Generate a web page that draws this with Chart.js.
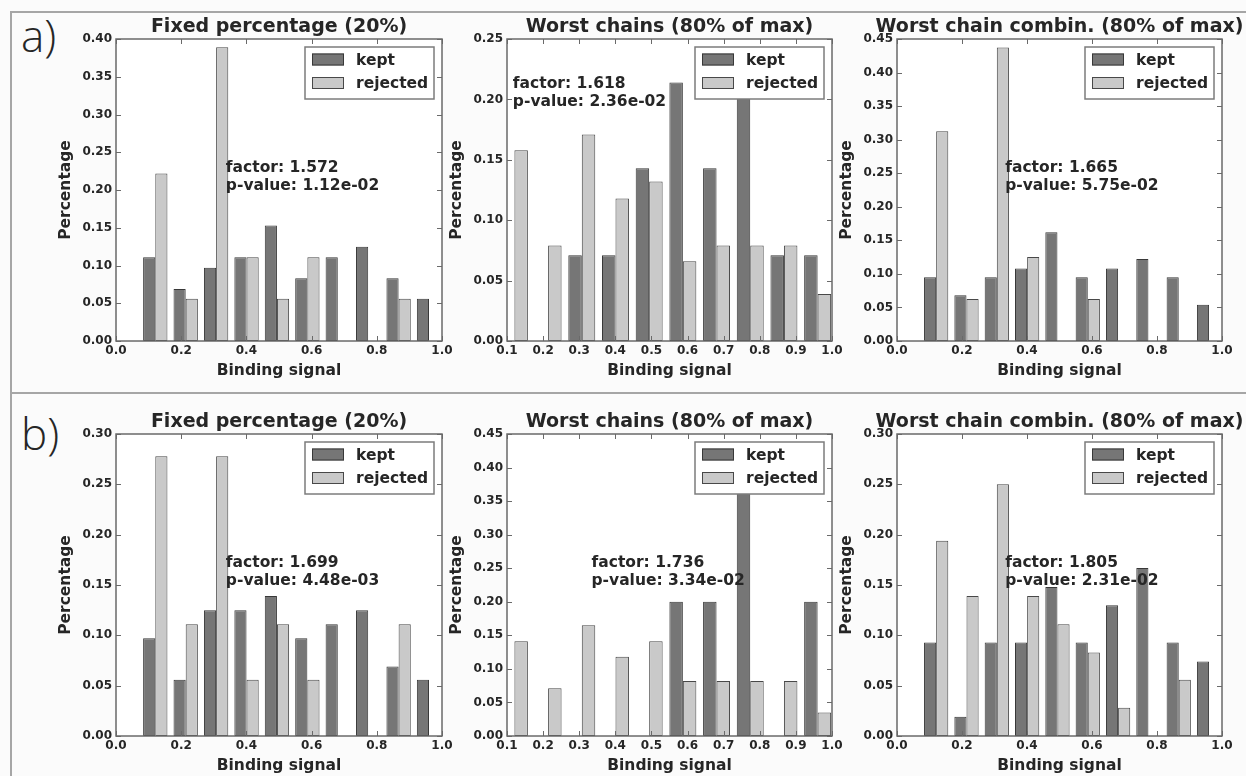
<!DOCTYPE html>
<html>
<head>
<meta charset="utf-8">
<script src="https://cdn.jsdelivr.net/npm/chart.js@4.4.1/dist/chart.umd.min.js"></script>
<style>
  html, body { margin: 0; padding: 0; background: #fbfbfb; overflow: hidden; }
  #fig { position: relative; width: 1246px; height: 776px; background: #fbfbfb; overflow: hidden; }
  .rule { position: absolute; background: #a6a6a6; }
  #fig canvas { position: absolute; }
  .tag { position: absolute; font-family: 'Open Sans', sans-serif; font-weight: 300; font-size: 44px; color: #262626; line-height: 1; }
</style>
</head>
<body>
<div id="fig">
  <div class="rule" style="left:11px;top:11px;width:1235px;height:2px"></div>
  <div class="rule" style="left:10px;top:11px;width:2px;height:765px"></div>
  <div class="rule" style="left:11px;top:392px;width:1235px;height:2px"></div>
  <div class="tag" style="left:21px;top:13px">a)</div>
  <div class="tag" style="left:21px;top:411px">b)</div>
</div>
<script>
// Histogram bin centres shared by all six panels (Binding signal)
const binCenters = [0.1205, 0.2138, 0.3071, 0.4004, 0.4937, 0.5870, 0.6803, 0.7736, 0.8669, 0.9602];

const seriesNames = ['kept', 'rejected'];
const panelTitles = ['Fixed percentage (20%)', 'Worst chains (80% of max)', 'Worst chain combin. (80% of max)'];

// Row a)
const keptA1 = [0.111, 0.069, 0.097, 0.111, 0.153, 0.083, 0.111, 0.125, 0.083, 0.056];
const rejectedA1 = [0.222, 0.056, 0.389, 0.111, 0.056, 0.111, 0, 0, 0.056, 0];
const keptA2 = [0, 0, 0.071, 0.071, 0.143, 0.214, 0.143, 0.214, 0.071, 0.071];
const rejectedA2 = [0.158, 0.079, 0.171, 0.118, 0.132, 0.066, 0.079, 0.079, 0.079, 0.039];
const keptA3 = [0.095, 0.068, 0.095, 0.108, 0.162, 0.095, 0.108, 0.122, 0.095, 0.054];
const rejectedA3 = [0.3125, 0.0625, 0.4375, 0.125, 0, 0.0625, 0, 0, 0, 0];

// Row b)
const keptB1 = [0.097, 0.056, 0.125, 0.125, 0.139, 0.097, 0.111, 0.125, 0.069, 0.056];
const rejectedB1 = [0.278, 0.111, 0.278, 0.056, 0.111, 0.056, 0, 0, 0.111, 0];
const keptB2 = [0, 0, 0, 0, 0, 0.2, 0.2, 0.4, 0, 0.2];
const rejectedB2 = [0.141, 0.071, 0.165, 0.118, 0.141, 0.082, 0.082, 0.082, 0.082, 0.035];
const keptB3 = [0.093, 0.019, 0.093, 0.093, 0.148, 0.093, 0.130, 0.167, 0.093, 0.074];
const rejectedB3 = [0.194, 0.139, 0.25, 0.139, 0.111, 0.083, 0.028, 0, 0.056, 0];

// Statistics printed inside each panel
const statsA = [['factor: 1.572', 'p-value: 1.12e-02'], ['factor: 1.618', 'p-value: 2.36e-02'], ['factor: 1.665', 'p-value: 5.75e-02']];
const statsB = [['factor: 1.699', 'p-value: 4.48e-03'], ['factor: 1.736', 'p-value: 3.34e-02'], ['factor: 1.805', 'p-value: 2.31e-02']];

// Axis ranges
const yMaxA = [0.40, 0.25, 0.45];
const yMaxB = [0.30, 0.45, 0.30];
const xRanges = [[0, 1, 0.2], [0.1, 1, 0.1], [0, 1, 0.2]];

const FONT = '"DejaVu Sans", "Liberation Sans", sans-serif';
const INK = '#262626';
const FRAME = '#6a6a6a';

const panelDecor = {
  id: 'panelDecor',
  beforeDraw(chart) {
    const { ctx, chartArea: a } = chart;
    ctx.save();
    ctx.fillStyle = '#ffffff';
    ctx.fillRect(a.left, a.top, a.right - a.left, a.bottom - a.top);
    ctx.restore();
  },
  afterDatasetsDraw(chart, args, opts) {
    const { ctx, chartArea: a } = chart;
    const xs = chart.scales.x, ys = chart.scales.y;
    ctx.save();
    // inward tick marks on all four sides
    ctx.strokeStyle = FRAME;
    ctx.lineWidth = 1;
    ctx.beginPath();
    xs.ticks.forEach(t => {
      const px = Math.round(xs.getPixelForValue(t.value)) + 0.5;
      ctx.moveTo(px, a.bottom); ctx.lineTo(px, a.bottom - 5);
      ctx.moveTo(px, a.top); ctx.lineTo(px, a.top + 5);
    });
    ys.ticks.forEach(t => {
      const py = Math.round(ys.getPixelForValue(t.value)) + 0.5;
      ctx.moveTo(a.left, py); ctx.lineTo(a.left + 5, py);
      ctx.moveTo(a.right, py); ctx.lineTo(a.right - 5, py);
    });
    ctx.stroke();
    // axes frame
    ctx.lineWidth = 1.5;
    ctx.strokeRect(a.left, a.top, a.right - a.left, a.bottom - a.top);

    // statistics text
    ctx.fillStyle = INK;
    ctx.font = 'bold 15.5px ' + FONT;
    ctx.textBaseline = 'alphabetic';
    ctx.textAlign = 'left';
    const tx = a.left + opts.statX * (a.right - a.left);
    const ty = a.top + opts.statY * (a.bottom - a.top);
    opts.stats.forEach((s, i) => ctx.fillText(s, tx, ty + i * 18));

    // legend box
    const bw = 129, bh = 52;
    const bx = a.right - 8 - bw, by = a.top + 8;
    ctx.fillStyle = '#ffffff';
    ctx.fillRect(bx, by, bw, bh);
    ctx.strokeStyle = '#7c7c7c';
    ctx.lineWidth = 1.5;
    ctx.strokeRect(bx, by, bw, bh);
    chart.data.datasets.forEach((ds, i) => {
      const cy = by + 12.5 + i * 23.5;
      ctx.fillStyle = ds.backgroundColor;
      ctx.fillRect(bx + 7, cy - 6, 32, 12);
      ctx.strokeStyle = ds.borderColor;
      ctx.lineWidth = 1;
      ctx.strokeRect(bx + 7.5, cy - 5.5, 31, 11);
      ctx.fillStyle = INK;
      ctx.font = 'bold 15.5px ' + FONT;
      ctx.textBaseline = 'middle';
      ctx.fillText(ds.label, bx + 51, cy + 1);
    });
    ctx.restore();
  },
  afterDraw(chart, args, opts) {
    const { ctx, chartArea: a } = chart;
    ctx.save();
    ctx.fillStyle = INK;
    ctx.font = 'bold 19px ' + FONT;
    ctx.textAlign = 'center';
    ctx.textBaseline = 'middle';
    ctx.fillText(opts.title, (a.left + a.right) / 2, a.top - 12);
    ctx.restore();
  }
};

function makePanel(id, left, top, plotW, title, kept, rejected, yMax, xr, stats, statX, statY) {
  const padL = 8, yAxisW = 63, padR = 24, padT = 36, xAxisH = 43, padB = 2;
  const plotH = 302;
  const cv = document.createElement('canvas');
  cv.id = id;
  cv.width = padL + yAxisW + plotW + padR;
  cv.height = padT + plotH + xAxisH + padB;
  cv.style.left = (left - yAxisW - padL) + 'px';
  cv.style.top = (top - padT) + 'px';
  document.getElementById('fig').appendChild(cv);

  const tickFont = { family: FONT, size: 12, weight: 'bold' };
  const titleFont = { family: FONT, size: 15.5, weight: 'bold' };

  new Chart(cv, {
    type: 'bar',
    data: {
      datasets: [
        { label: seriesNames[0], data: binCenters.map((c, i) => ({ x: c, y: kept[i] })),
          backgroundColor: '#767676', borderColor: '#383838', borderWidth: 1, borderSkipped: false },
        { label: seriesNames[1], data: binCenters.map((c, i) => ({ x: c, y: rejected[i] })),
          backgroundColor: '#c9c9c9', borderColor: '#484848', borderWidth: 1, borderSkipped: false }
      ]
    },
    options: {
      responsive: false,
      animation: false,
      devicePixelRatio: 1,
      layout: { padding: { left: padL, right: padR, top: padT, bottom: padB } },
      datasets: { bar: { barPercentage: 1, categoryPercentage: 0.8, grouped: true } },
      plugins: {
        legend: { display: false },
        tooltip: { enabled: false },
        title: { display: false },
        panelDecor: { title, stats, statX, statY }
      },
      scales: {
        x: {
          type: 'linear', min: xr[0], max: xr[1], offset: false,
          grid: { display: false, drawTicks: false },
          border: { display: false },
          ticks: { stepSize: xr[2], font: tickFont, color: INK, padding: 3, maxRotation: 0, autoSkip: false,
                   callback: v => Number(v).toFixed(1) },
          title: { display: true, text: 'Binding signal', font: titleFont, color: INK, padding: { top: 4, bottom: 4 } },
          afterFit: s => { s.height = xAxisH; }
        },
        y: {
          min: 0, max: yMax,
          grid: { display: false, drawTicks: false },
          border: { display: false },
          ticks: { stepSize: 0.05, font: tickFont, color: INK, padding: 4,
                   callback: v => Number(v).toFixed(2) },
          title: { display: true, text: 'Percentage', font: titleFont, color: INK, padding: { top: 4, bottom: 4 } },
          afterFit: s => { s.width = yAxisW; }
        }
      }
    },
    plugins: [panelDecor]
  });
}

const colLeft = [116, 507, 897];
const colWidth = [326, 325, 325];
const rowTop = [39, 434];

const keptRows = [[keptA1, keptA2, keptA3], [keptB1, keptB2, keptB3]];
const rejRows = [[rejectedA1, rejectedA2, rejectedA3], [rejectedB1, rejectedB2, rejectedB3]];
const yMaxRows = [yMaxA, yMaxB];
const statRows = [statsA, statsB];
const statPosX = [[0.337, 0.018, 0.333], [0.337, 0.26, 0.333]];
const statPosY = [[0.441, 0.161, 0.441], [0.441, 0.441, 0.441]];

for (let r = 0; r < 2; r++) {
  for (let c = 0; c < 3; c++) {
    makePanel('p' + r + c, colLeft[c], rowTop[r], colWidth[c], panelTitles[c],
      keptRows[r][c], rejRows[r][c], yMaxRows[r][c], xRanges[c],
      statRows[r][c], statPosX[r][c], statPosY[r][c]);
  }
}
</script>
</body>
</html>
